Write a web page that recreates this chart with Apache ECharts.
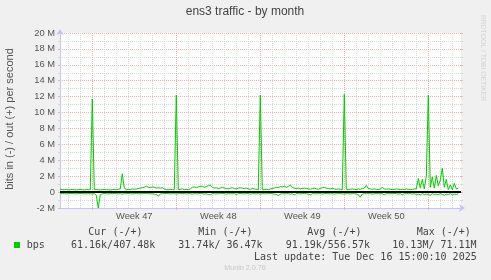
<!DOCTYPE html>
<html><head><meta charset="utf-8">
<script src="https://cdn.jsdelivr.net/npm/echarts@6/dist/echarts.min.js"></script>
<style>html,body{margin:0;padding:0;background:#f0f0f0}#c{width:491px;height:280px}</style>
</head><body><div id="c"></div>
<script>
// time axis: days relative to Monday of week 47
const xMinDay = -2.69;
const xMaxDay = 30.725;
const startDay = -8 / 3;     // first sample
const stepDay = 1 / 6;       // 4-hour samples
const weekStartDays = [0, 7, 14, 21, 28];
const weekLabelDays = [3.5, 10.5, 17.5, 24.5];
const weekLabels = ['Week 47', 'Week 48', 'Week 49', 'Week 50'];
const dayLineDays = [-2,-1,1,2,3,4,5,6,8,9,10,11,12,13,15,16,17,18,19,20,22,23,24,25,26,27,29,30];

// y axis in Mbit/s
const yMin = -2, yMax = 20, yStep = 2;

// out (+) bits per second, Mbit/s
const outMbps = [
  0.35,0.32,0.3,0.33,0.28,0.3,0.34,0.3,0.27,0.3,0.33,0.3,0.28,0.31,0.3,0.3,
  11.7,
  0.3,0.32,0.3,0.28,0.3,0.33,0.3,0.3,0.27,0.3,0.32,0.3,0.35,0.4,
  2.3,
  0.5,0.3,0.35,0.3,0.4,0.35,0.4,0.45,0.5,0.55,0.6,0.75,0.6,0.55,0.65,0.6,0.5,0.55,0.5,
  0.55,0.4,0.3,0.3,0.35,0.3,0.3,
  12.2,
  0.3,0.35,0.4,0.3,0.35,0.3,0.4,
  0.6,0.65,0.55,0.65,0.7,0.75,0.6,0.7,0.8,0.9,
  0.6,0.5,0.55,0.45,0.5,0.6,0.5,0.45,0.4,0.5,0.55,0.45,0.4,0.5,0.55,0.5,0.45,0.5,0.4,0.35,0.45,0.4,0.35,0.3,
  12.2,
  0.3,0.3,0.35,0.3,0.4,0.45,
  0.5,0.6,0.55,0.7,0.65,0.75,0.6,0.7,0.9,0.6,
  0.5,0.45,0.5,0.4,0.45,0.5,0.45,0.4,0.35,0.45,0.5,0.4,0.35,0.45,0.55,0.6,0.5,0.45,0.4,0.45,0.4,0.35,0.4,0.35,0.3,
  12.3,
  0.35,0.3,0.35,0.4,0.35,0.3,0.4,0.35,0.45,0.5,0.85,0.45,0.4,0.35,0.4,0.35,0.3,0.4,0.6,0.4,0.35,0.4,0.35,0.3,0.35,0.4,0.35,0.3,0.35,0.3,0.4,0.35,0.3,0.35,0.4,
  0.4,1.7,0.5,1.6,0.4,2.0,12.2,0.6,1.9,0.5,2.1,0.8,1.5,3.0,0.6,1.6,0.3,0.9,0.3,1.1,0.4,0.5
];

// in (-) bits per second, Mbit/s (drawn negative)
const inMbps = [
  -0.2,-0.18,-0.2,-0.22,-0.2,-0.18,-0.2,-0.2,-0.22,-0.2,-0.18,-0.2,-0.2,-0.22,-0.2,-0.2,-0.25,-0.2,-0.4,-2.0,
  -0.3,-0.2,-0.18,-0.2,-0.22,-0.2,-0.2,-0.18,-0.2,-0.22,-0.2,-0.25,-0.2,-0.2,-0.18,-0.2,-0.22,-0.2,-0.2,-0.2,
  -0.22,-0.2,-0.18,-0.2,-0.2,-0.22,-0.2,-0.25,-0.3,-0.5,-0.25,-0.2,-0.2,-0.18,-0.2,-0.22,-0.2,-0.2,-0.25,-0.2,
  -0.2,-0.18,-0.2,-0.22,-0.2,-0.2,-0.25,-0.2,-0.22,-0.2,-0.18,-0.2,-0.25,-0.22,-0.3,-0.35,-0.2,-0.2,-0.22,-0.2,
  -0.2,-0.18,-0.2,-0.25,-0.2,-0.22,-0.2,-0.2,-0.3,-0.2,-0.18,-0.2,-0.22,-0.2,-0.2,-0.25,-0.2,-0.2,-0.22,-0.2,
  -0.25,-0.2,-0.2,-0.22,-0.2,-0.18,-0.2,-0.25,-0.3,-0.45,-0.25,-0.2,-0.22,-0.2,-0.2,-0.25,-0.2,-0.35,-0.2,-0.2,
  -0.22,-0.2,-0.18,-0.2,-0.25,-0.35,-0.2,-0.2,-0.22,-0.2,-0.2,-0.25,-0.2,-0.18,-0.2,-0.22,-0.2,-0.25,-0.2,-0.2,
  -0.2,-0.22,-0.25,-0.2,-0.2,-0.22,-0.2,-0.18,-0.25,-0.3,-0.65,-0.25,-0.2,-0.22,-0.2,-0.2,-0.25,-0.2,-0.18,-0.2,
  -0.22,-0.2,-0.35,-0.2,-0.2,-0.22,-0.2,-0.18,-0.2,-0.25,-0.2,-0.35,-0.2,-0.2,-0.22,-0.2,-0.25,-0.2,-0.3,-0.25,
  -0.35,-0.2,-0.3,-0.25,-0.3,-0.4,-0.2,-0.3,-0.25,-0.35,-0.2,-0.3,-0.4,-0.25,-0.3,-0.2,-0.35,-0.25,-0.3,-0.2
];

// legend table
const legendName = 'bps';
const legendHeaders = ['Cur (-/+)', 'Min (-/+)', 'Avg (-/+)', 'Max (-/+)'];
const legendValues = ['61.16k/407.48k', '31.74k/ 36.47k', '91.19k/556.57k', '10.13M/ 71.11M'];
const lastUpdate = 'Last update: Tue Dec 16 15:00:10 2025';
const titleText = 'ens3 traffic - by month';
const yAxisTitle = 'bits in (-) / out (+) per second';

const toPts = arr => arr.map((v, i) => [startDay + i * stepDay, v]);

const SANS = 'Liberation Sans, Arial, sans-serif';
const MONO = 'DejaVu Sans Mono, monospace';
const RED = '#f0b0b0', GRAY = '#d8d8d8', AXIS = '#c4c4f4';

const chart = echarts.init(document.getElementById('c'), null, {renderer: 'canvas'});
const hdrX = [88.3, 198.3, 307.3, 416.7];
const valX = [71, 178.3, 285.7, 392.3];
const graphics = [
  {type: 'text', x: 245, y: 12, style: {text: titleText, font: '12px ' + SANS, fill: '#444', align: 'center', verticalAlign: 'middle'}},
  {type: 'text', x: 10, y: 119, rotation: Math.PI / 2, style: {text: yAxisTitle, font: '11px ' + SANS, fill: '#555', align: 'center', verticalAlign: 'middle'}},
  {type: 'text', x: 483, y: 58, rotation: -Math.PI / 2, style: {text: 'RRDTOOL / TOBI OETIKER', font: '6.8px ' + SANS, fill: '#d4d4d4', align: 'center', verticalAlign: 'middle'}},
  {type: 'rect', shape: {x: 14, y: 242, width: 6, height: 6}, style: {fill: '#00cc00'}},
  {type: 'text', x: 26.7, y: 245, style: {text: legendName, font: '10px ' + MONO, fill: '#444', verticalAlign: 'middle'}},
  {type: 'text', x: 476.7, y: 257.3, style: {text: lastUpdate, font: '10px ' + MONO, fill: '#444', align: 'right', verticalAlign: 'middle'}},
  {type: 'text', x: 245, y: 268.5, style: {text: 'Munin 2.0.76', font: '7.2px ' + SANS, fill: '#c8c8c8', align: 'center', verticalAlign: 'middle'}}
];
legendHeaders.forEach((t, k) => graphics.push({type: 'text', x: hdrX[k], y: 232.3, style: {text: t, font: '10px ' + MONO, fill: '#444', verticalAlign: 'middle'}}));
legendValues.forEach((t, k) => graphics.push({type: 'text', x: valX[k], y: 245, style: {text: t, font: '10px ' + MONO, fill: '#444', verticalAlign: 'middle'}}));

chart.setOption({
  animation: false,
  backgroundColor: '#f0f0f0',
  grid: {left: 60, top: 33, width: 401, height: 175, show: true, backgroundColor: '#ffffff', borderWidth: 0},
  xAxis: [
    {
      type: 'value', min: xMinDay, max: xMaxDay, position: 'bottom',
      axisLine: {show: true, onZero: false, lineStyle: {color: AXIS, width: 1}, symbol: ['none', 'arrow'], symbolSize: [6, 6], symbolOffset: [0, 4]},
      axisTick: {show: true, customValues: weekStartDays, length: 2, lineStyle: {color: RED}},
      axisLabel: {show: true, customValues: weekLabelDays, margin: 4, fontFamily: SANS, fontSize: 9.3, color: '#555',
        formatter: v => weekLabels[weekLabelDays.indexOf(v)] || ''},
      splitLine: {show: true, lineStyle: {color: RED, type: [1, 1], width: 1}}
    },
    {
      type: 'value', min: xMinDay, max: xMaxDay, position: 'bottom',
      axisLine: {show: false, onZero: false},
      axisTick: {show: false, customValues: dayLineDays},
      axisLabel: {show: false},
      splitLine: {show: true, lineStyle: {color: GRAY, type: [1, 1], width: 1}}
    }
  ],
  yAxis: [
    {
      type: 'value', min: yMin, max: yMax, interval: yStep, position: 'left',
      axisLine: {show: true, onZero: false, lineStyle: {color: AXIS, width: 1}, symbol: ['none', 'arrow'], symbolSize: [6, 6], symbolOffset: [0, 4]},
      axisTick: {show: true, length: 2, lineStyle: {color: RED}},
      minorTick: {show: true, splitNumber: 2, length: 2, lineStyle: {color: GRAY}},
      axisLabel: {margin: 5, fontFamily: SANS, fontSize: 9.3, color: '#555', formatter: v => v === 0 ? '0' : v + ' M'},
      splitLine: {show: true, lineStyle: {color: RED, type: [1, 1], width: 1}},
      minorSplitLine: {show: true, lineStyle: {color: GRAY, type: [1, 1], width: 1}}
    },
    {
      type: 'value', min: yMin, max: yMax, interval: yStep, position: 'right',
      axisLine: {show: false, onZero: false},
      axisTick: {show: true, length: 2, lineStyle: {color: RED}},
      minorTick: {show: true, splitNumber: 2, length: 2, lineStyle: {color: GRAY}},
      axisLabel: {show: false},
      splitLine: {show: false}
    }
  ],
  series: [
    {
      type: 'line', name: 'zero', data: [], z: 1, silent: true,
      markLine: {silent: true, symbol: ['none', 'none'], label: {show: false}, animation: false,
        lineStyle: {color: '#000', width: 2, type: 'solid'}, data: [{yAxis: 0}]}
    },
    {type: 'line', name: 'in', data: toPts(inMbps), showSymbol: false, symbol: 'none', z: 2,
      lineStyle: {color: '#00cc00', width: 1}},
    {type: 'line', name: 'out', data: toPts(outMbps), showSymbol: false, symbol: 'none', z: 3,
      lineStyle: {color: '#00cc00', width: 1}}
  ],
  graphic: graphics
});
</script></body></html>
